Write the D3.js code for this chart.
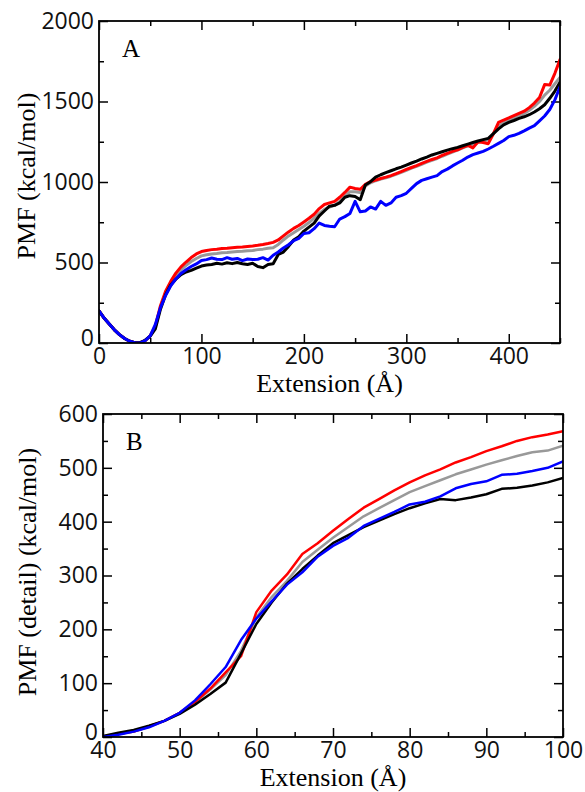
<!DOCTYPE html>
<html><head><meta charset="utf-8">
<script src="https://cdn.jsdelivr.net/npm/d3@7"></script>
<style>
html,body{margin:0;padding:0;background:#fff;}
svg{display:block;}
</style></head>
<body>
<svg id="chart" width="585" height="792"></svg>
<script>
// ---------- Panel A data (Extension in Å, PMF in kcal/mol) ----------
const extA = [0,5,10,15,20,25,30,35,40,45,
  50,55,60,65,70,75,80,85,90,95,
  100,105,110,115,120,125,130,135,140,145,
  150,155,160,165,170,175,180,185,190,195,
  200,205,210,215,220,225,230,235,240,245,
  250,255,260,265,270,275,280,285,290,295,
  300,305,310,315,320,325,330,335,340,345,
  350,355,360,365,370,375,380,385,390,395,
  400,405,410,415,420,425,430,435,440,445,
  450];
const blackA = [200,155,118,82,52,28,11,2,2,17,
  43,88,210,300,360,396,425,441,451,465,
  478,484,488,495,490,498,493,500,492,488,
  495,475,468,488,492,550,565,600,640,660,
  695,720,745,790,820,850,855,870,905,915,
  910,890,982,1002,1030,1045,1058,1070,1082,1092,
  1105,1118,1130,1143,1155,1168,1178,1188,1198,1207,
  1215,1225,1235,1245,1255,1263,1271,1300,1330,1355,
  1370,1382,1395,1405,1418,1435,1455,1480,1520,1565,
  1620];
const grayA = [200,155,118,82,52,28,11,2,1,15,
  45,100,222,308,370,418,455,482,506,525,
  541,548,553,556,560,562,565,568,570,573,
  575,580,583,588,592,612,640,665,685,705,
  725,748,775,805,830,845,855,880,910,940,
  940,935,975,995,1008,1018,1026,1036,1048,1060,
  1073,1086,1098,1110,1123,1135,1146,1160,1173,1186,
  1198,1212,1225,1232,1245,1255,1262,1300,1345,1370,
  1385,1400,1412,1425,1445,1470,1500,1540,1570,1610,
  1650];
const redA = [200,155,118,82,52,28,11,2,1,14,
  45,105,232,322,383,434,473,503,531,553,
  568,575,580,583,587,588,592,595,597,600,
  603,607,612,618,625,640,665,690,712,730,
  752,775,800,835,860,870,880,905,935,968,
  960,955,985,1002,1012,1022,1030,1040,1052,1065,
  1078,1090,1102,1115,1128,1140,1150,1165,1178,1190,
  1200,1215,1228,1212,1250,1245,1238,1300,1370,1385,
  1398,1412,1426,1440,1462,1490,1525,1605,1602,1675,
  1760];
const blueA = [200,155,118,82,52,28,11,2,0,14,
  45,115,220,295,355,398,432,455,475,491,
  512,518,528,520,518,530,520,525,512,522,
  518,520,530,515,545,565,590,610,635,650,
  680,685,710,745,730,725,722,770,785,805,
  880,815,820,845,832,880,855,870,905,915,
  930,960,990,1010,1020,1030,1040,1065,1080,1100,
  1118,1135,1155,1170,1180,1190,1205,1222,1240,1258,
  1282,1290,1302,1318,1335,1350,1380,1410,1450,1510,
  1592];
const xTicksA = [0,100,200,300,400];
const yTicksA = [0,500,1000,1500,2000];

// ---------- Panel B data (detail) ----------
const extB = [40,42,44,46,48,50,52,54,56,58,60,62,64,66,68,70,72,74,76,78,80,82,84,86,88,90,92,94,96,98,100];
const blackB = [2,8,13,21,30,43,60,80,101,155,210,250,285,312,337,360,375,390,402,414,425,434,442,440,445,451,461,463,467,473,481];
const grayB  = [1,5,10,19,30,45,64,88,115,160,222,260,290,325,348,370,390,410,425,440,455,466,477,488,497,506,514,522,529,532,541];
const redB   = [1,6,10,20,30,45,65,90,120,150,232,272,302,340,360,383,405,426,442,458,473,486,497,510,520,531,540,550,557,562,568];
const blueB  = [0,4,10,18,30,45,68,98,130,180,220,252,283,306,335,355,370,392,405,418,432,437,447,462,470,475,487,489,494,500,512];
const xTicksB = [40,50,60,70,80,90,100];
const yTicksB = [0,100,200,300,400,500,600];

const svg = d3.select("#chart");
const tickFont = "'Open Sans', sans-serif";
const titleFont = "'Liberation Serif', 'Times New Roman', serif";

function panel(o) {
  const x = d3.scaleLinear().domain(o.xDomain).range([o.left, o.right]);
  const y = d3.scaleLinear().domain(o.yDomain).range([o.bottom, o.top]);
  const g = svg.append("g");

  const styleAxis = sel => {
    sel.select(".domain").remove();
    sel.selectAll("line").attr("stroke", "#000").attr("stroke-width", 1.5);
    sel.selectAll("text").attr("font-family", tickFont).attr("font-size", 23).attr("fill", "#111");
  };
  // major ticks (inward) with labels
  g.append("g").attr("transform", `translate(0,${o.bottom})`)
    .call(d3.axisBottom(x).tickValues(o.xTicks).tickSizeInner(-9).tickSizeOuter(0).tickPadding(5).tickFormat(d3.format("d")))
    .call(styleAxis);
  const ya = g.append("g").attr("transform", `translate(${o.left},0)`)
    .call(d3.axisLeft(y).tickValues(o.yTicks).tickSizeInner(-9).tickSizeOuter(0).tickPadding(5).tickFormat(d3.format("d")))
    .call(styleAxis);
  // lift the bottom "0" label a little so it sits above the x labels
  ya.selectAll(".tick").filter(d => d === o.yDomain[0]).select("text").attr("dy", "0.1em");
  g.append("g").attr("transform", `translate(0,${o.top})`)
    .call(d3.axisTop(x).tickValues(o.xTicks).tickSizeInner(-9).tickSizeOuter(0).tickFormat(""))
    .call(styleAxis);
  g.append("g").attr("transform", `translate(${o.right},0)`)
    .call(d3.axisRight(y).tickValues(o.yTicks).tickSizeInner(-9).tickSizeOuter(0).tickFormat(""))
    .call(styleAxis);
  // minor ticks
  g.append("g").attr("transform", `translate(0,${o.bottom})`)
    .call(d3.axisBottom(x).tickValues(o.xMinor).tickSizeInner(-5).tickSizeOuter(0).tickFormat("")).call(styleAxis);
  g.append("g").attr("transform", `translate(0,${o.top})`)
    .call(d3.axisTop(x).tickValues(o.xMinor).tickSizeInner(-5).tickSizeOuter(0).tickFormat("")).call(styleAxis);
  g.append("g").attr("transform", `translate(${o.left},0)`)
    .call(d3.axisLeft(y).tickValues(o.yMinor).tickSizeInner(-5).tickSizeOuter(0).tickFormat("")).call(styleAxis);
  g.append("g").attr("transform", `translate(${o.right},0)`)
    .call(d3.axisRight(y).tickValues(o.yMinor).tickSizeInner(-5).tickSizeOuter(0).tickFormat("")).call(styleAxis);

  // curves
  const clipId = "clip" + o.name;
  svg.append("clipPath").attr("id", clipId).append("rect")
    .attr("x", o.left).attr("y", o.top - 3).attr("width", o.right - o.left).attr("height", o.bottom - o.top + 3);
  const line = d3.line().x((d, i) => x(o.ext[i])).y(d => y(d));
  const lg = g.append("g").attr("clip-path", `url(#${clipId})`);
  o.series.forEach(s => {
    lg.append("path").datum(s.values).attr("d", line)
      .attr("fill", "none").attr("stroke", s.color).attr("stroke-width", o.lw)
      .attr("stroke-linejoin", "round").attr("stroke-linecap", "round");
  });

  // frame
  g.append("rect").attr("x", o.left).attr("y", o.top).attr("width", o.right - o.left).attr("height", o.bottom - o.top)
    .attr("fill", "none").attr("stroke", "#000").attr("stroke-width", 1.8);

  // titles
  g.append("text").attr("x", (o.left + o.right) / 2).attr("y", o.xTitleY).attr("text-anchor", "middle")
    .attr("font-family", titleFont).attr("font-size", 26).attr("fill", "#000").text("Extension (Å)");
  g.append("text").attr("transform", `translate(${o.yTitleX},${o.yTitleCY}) rotate(-90)`).attr("text-anchor", "middle")
    .attr("font-family", titleFont).attr("font-size", 26).attr("fill", "#000").text(o.yTitle);
  g.append("text").attr("x", o.left + 23).attr("y", o.top + 36)
    .attr("font-family", titleFont).attr("font-size", 25).attr("fill", "#000").text(o.name);
}

panel({
  name: "A", left: 99, right: 560, top: 21, bottom: 343,
  xDomain: [0, 450], yDomain: [0, 2000],
  xTicks: xTicksA, yTicks: yTicksA,
  xMinor: [50,150,250,350,450], yMinor: [250,750,1250,1750],
  ext: extA, lw: 3,
  series: [
    {values: grayA, color: "#999999"},
    {values: redA, color: "#ff0000"},
    {values: blackA, color: "#000000"},
    {values: blueA, color: "#0000ff"}
  ],
  xTitleY: 392, yTitleX: 35, yTitleCY: 176, yTitle: "PMF (kcal/mol)"
});

panel({
  name: "B", left: 103, right: 563, top: 414, bottom: 737,
  xDomain: [40, 100], yDomain: [0, 600],
  xTicks: xTicksB, yTicks: yTicksB,
  xMinor: [45,55,65,75,85,95], yMinor: [50,150,250,350,450,550],
  ext: extB, lw: 2.5,
  series: [
    {values: grayB, color: "#999999"},
    {values: redB, color: "#ff0000"},
    {values: blackB, color: "#000000"},
    {values: blueB, color: "#0000ff"}
  ],
  xTitleY: 786, yTitleX: 36, yTitleCY: 572, yTitle: "PMF (detail) (kcal/mol)"
});
</script>
</body></html>
